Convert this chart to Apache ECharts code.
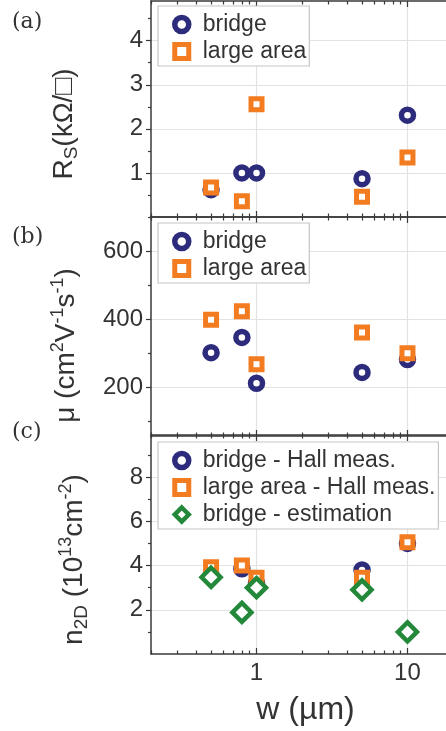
<!DOCTYPE html>
<html>
<head>
<meta charset="utf-8">
<script src="https://cdn.jsdelivr.net/npm/echarts@6/dist/echarts.min.js"></script>
<style>
  html, body { margin: 0; padding: 0; background: #fff; }
  #chart { width: 446px; height: 731px; }
</style>
</head>
<body>
<div id="chart"></div>
<script>
// channel widths (µm), shared by all three panels
const widths = [0.5, 0.8, 1, 5, 10]

// (a) sheet resistance, kΩ/□
const rsBridge = [0.62, 1.0, 1.0, 0.87, 2.31]
const rsLarge = [0.67, 0.36, 2.56, 0.46, 1.35]

// (b) mobility, cm²/Vs
const muBridge = [303, 348, 213, 245, 283]
const muLarge = [400, 425, 269, 362, 301]

// (c) carrier density, 1e13 cm⁻²
const nBridgeHall = [3.55, 3.85, 3.2, 3.8, 5.0]
const nLargeHall = [3.92, 4.0, 3.45, 3.45, 5.05]
const nBridgeEst = [3.47, 1.88, 3.0, 2.9, 1.0]

// tick labels
const xMajor = [1, 10]
const xMinor = [0.2, 0.3, 0.4, 0.5, 0.6, 0.7, 0.8, 0.9, 2, 3, 4, 5, 6, 7, 8, 9]
const rsMajor = [1, 2, 3, 4]
const rsMinor = [0.5, 1.5, 2.5, 3.5, 4.5]
const muMajor = [200, 400, 600]
const muMinor = [100, 300, 500, 700]
const nMajor = [2, 4, 6, 8]
const nMinor = [1, 3, 5, 7, 9]

const FONT = '"Liberation Sans", Arial, sans-serif'
const AXIS = '#3a3a3a'
const GRIDLINE = '#e3e3e3'
const NAVY = '#2d2b7c'
const ORANGE = '#f37b20'
const GREEN = '#23883a'

const pairs = ys => widths.map((w, i) => [w, ys[i]])

function xAxes(gi, withLabels) {
  const base = { type: 'log', gridIndex: gi, min: 0.2, max: 18 }
  return [
    {
      ...base, position: 'bottom',
      axisLine: { onZero: false, lineStyle: { color: AXIS, width: 1.5 } },
      axisTick: { inside: true, length: 6, customValues: xMajor, lineStyle: { color: AXIS, width: 1.2 } },
      axisLabel: { show: withLabels, customValues: xMajor, margin: 7, fontSize: 24, color: '#333', fontFamily: FONT },
      splitLine: { show: true, lineStyle: { color: GRIDLINE, width: 1.2 } },
      name: withLabels ? 'w (µm)' : '', nameLocation: 'middle', nameGap: 40,
      nameTextStyle: { fontSize: 32, color: '#333', fontFamily: FONT, padding: [0, 0, 0, 14] },
    },
    {
      ...base, position: 'bottom',
      axisLine: { show: false, onZero: false },
      axisTick: { inside: true, length: 3.5, customValues: xMinor, lineStyle: { color: AXIS, width: 1.2 } },
      axisLabel: { show: false }, splitLine: { show: false },
    },
    {
      ...base, position: 'top',
      axisLine: { onZero: false, lineStyle: { color: AXIS, width: 1.5 } },
      axisTick: { inside: true, length: 6, customValues: xMajor, lineStyle: { color: AXIS, width: 1.2 } },
      axisLabel: { show: false }, splitLine: { show: false },
    },
    {
      ...base, position: 'top',
      axisLine: { show: false, onZero: false },
      axisTick: { inside: true, length: 3.5, customValues: xMinor, lineStyle: { color: AXIS, width: 1.2 } },
      axisLabel: { show: false }, splitLine: { show: false },
    },
  ]
}

const RICH = {
  b: { fontSize: 28, color: '#333', fontFamily: FONT, lineHeight: 34 },
  sub: { fontSize: 19, color: '#333', fontFamily: FONT, lineHeight: 14, verticalAlign: 'bottom' },
  sup: { fontSize: 18, color: '#333', fontFamily: FONT, lineHeight: 14, verticalAlign: 'top' },
}

function yAxes(gi, min, max, major, minor, name, nameGap, shift) {
  const base = { type: 'value', gridIndex: gi, position: 'left', min, max }
  return [
    {
      ...base,
      axisLine: { show: true, onZero: false, lineStyle: { color: AXIS, width: 1.5 } },
      axisTick: { show: true, inside: false, length: 5, customValues: major, lineStyle: { color: AXIS, width: 1.2 } },
      axisLabel: { customValues: major, margin: 8, fontSize: 24, color: '#333', fontFamily: FONT },
      splitLine: { show: true, lineStyle: { color: GRIDLINE, width: 1.2 } },
      name, nameLocation: 'middle', nameGap,
      nameTextStyle: { rich: RICH, padding: [0, shift, 0, 0] },
    },
    {
      ...base,
      axisLine: { show: false, onZero: false },
      axisTick: { show: true, inside: false, length: 3, customValues: minor, lineStyle: { color: AXIS, width: 1.2 } },
      axisLabel: { show: false }, splitLine: { show: false },
    },
  ]
}

function dots(name, data, p, symbol, color, size, bw) {
  return {
    name, type: 'scatter', data, xAxisIndex: 4 * p, yAxisIndex: 2 * p,
    symbol, symbolSize: size,
    itemStyle: { color: '#fff', borderColor: color, borderWidth: bw, opacity: 1 },
    emphasis: { disabled: true },
  }
}

function legend(top, items) {
  return {
    left: 158, top, orient: 'vertical', selectedMode: false,
    backgroundColor: '#fff', borderColor: '#c6c6c6', borderWidth: 1.2,
    padding: [7, 3, 3, 14], itemGap: 4, itemWidth: 14, itemHeight: 14,
    textStyle: { fontSize: 23, color: '#333', fontFamily: FONT, padding: [0, 0, 0, 9] },
    data: items,
  }
}

const panelLabel = (text, y) => ({
  type: 'text', left: 12, top: y,
  style: { text, fontSize: 22, fill: '#333', fontFamily: '"DejaVu Serif", serif' },
})

const chart = echarts.init(document.getElementById('chart'), null, { renderer: 'canvas' })

chart.setOption({
  animation: false,
  backgroundColor: '#fff',
  grid: [
    { left: 151, right: 0, top: 1, height: 216 },
    { left: 151, right: 0, top: 217, height: 219 },
    { left: 151, right: 0, top: 435, height: 219 },
  ],
  xAxis: [...xAxes(0, false), ...xAxes(1, false), ...xAxes(2, true)],
  yAxis: [
    ...yAxes(0, 0, 4.9, rsMajor, rsMinor, '{b|R}{sub|S}{b|(kΩ/□)}', 70, 30),
    ...yAxes(1, 58, 702, muMajor, muMinor, '{b|μ (cm}{sup|2}{b|V}{sup|-1}{b|s}{sup|-1}{b|)}', 68, 38),
    ...yAxes(2, 0, 9.9, nMajor, nMinor, '{b|n}{sub|2D}{b| (10}{sup|13}{b|cm}{sup|-2}{b|)}', 60, 30),
  ],
  legend: [
    legend(6, [
      { name: 'bridge', itemStyle: { borderWidth: 5.5 } },
      { name: 'large area', itemStyle: { borderWidth: 5 } },
    ]),
    legend(223, [
      { name: 'bridge', itemStyle: { borderWidth: 5.5 } },
      { name: 'large area', itemStyle: { borderWidth: 5 } },
    ]),
    legend(442, [
      { name: 'bridge - Hall meas.', itemStyle: { borderWidth: 5.5 } },
      { name: 'large area - Hall meas.', itemStyle: { borderWidth: 5 } },
      { name: 'bridge - estimation', itemStyle: { borderWidth: 4.5 } },
    ]),
  ],
  series: [
    dots('bridge', pairs(rsBridge), 0, 'circle', NAVY, 12, 5.5),
    dots('large area', pairs(rsLarge), 0, 'rect', ORANGE, 11, 5),
    dots('bridge', pairs(muBridge), 1, 'circle', NAVY, 12, 5.5),
    dots('large area', pairs(muLarge), 1, 'rect', ORANGE, 11, 5),
    dots('bridge - Hall meas.', pairs(nBridgeHall), 2, 'circle', NAVY, 12, 5.5),
    dots('large area - Hall meas.', pairs(nLargeHall), 2, 'rect', ORANGE, 11, 5),
    dots('bridge - estimation', pairs(nBridgeEst), 2, 'diamond', GREEN, 19, 4.5),
  ],
  graphic: [
    panelLabel('(a)', 11),
    panelLabel('(b)', 226),
    panelLabel('(c)', 421),
  ],
})

window.addEventListener('resize', () => chart.resize())
</script>
</body>
</html>
